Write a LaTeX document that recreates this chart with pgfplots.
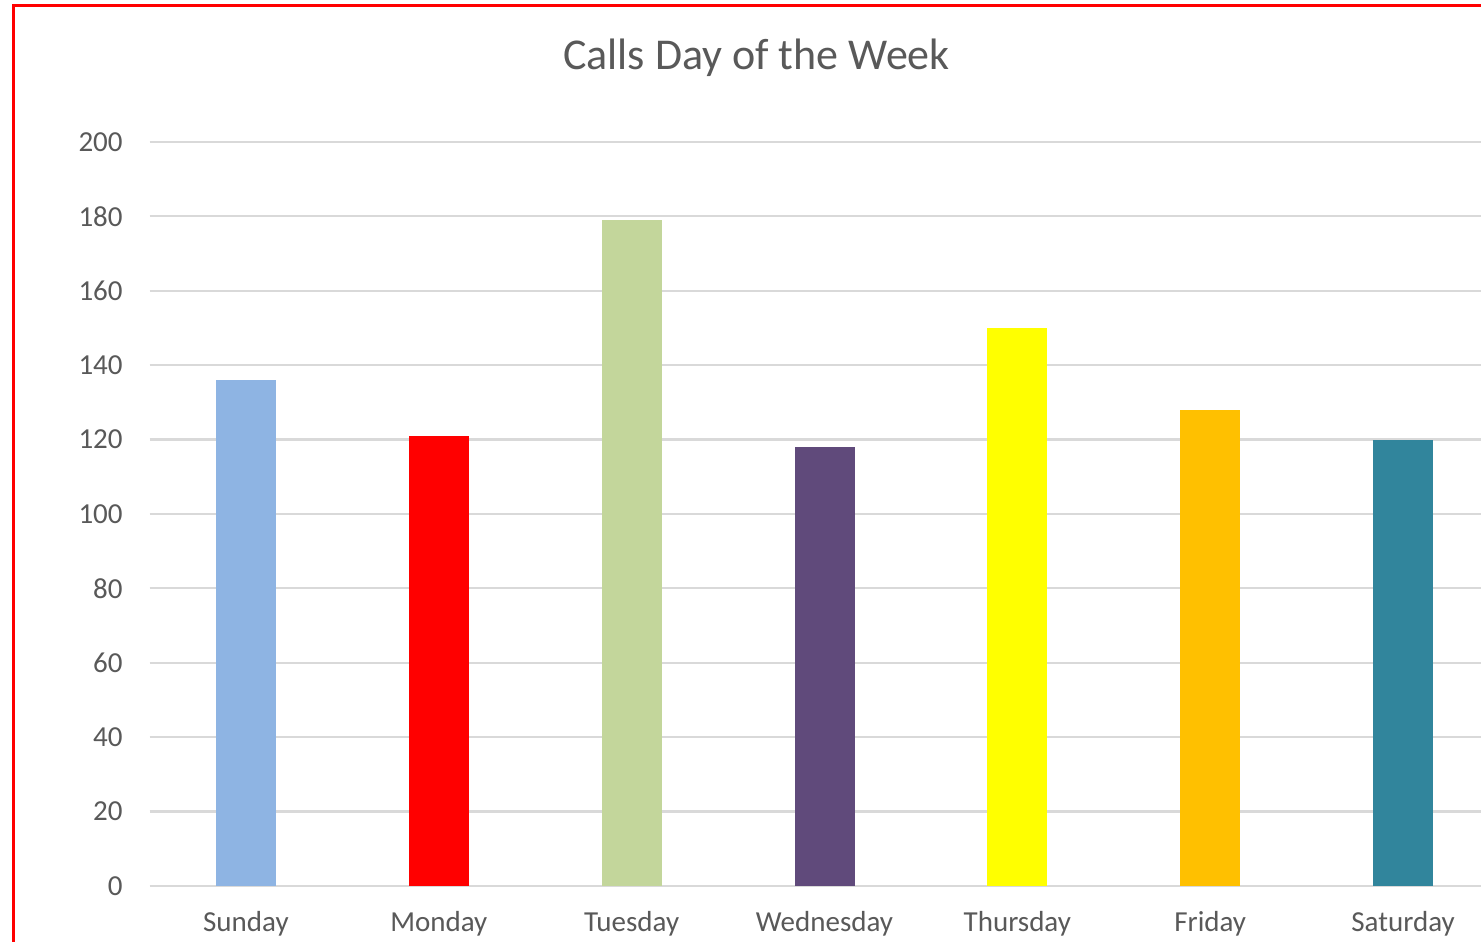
\documentclass[border=0pt]{standalone}
\usepackage{pgfplots}
\pgfplotsset{compat=1.18}
\usepackage{fontspec}
\setmainfont{Carlito}

\definecolor{txtgray}{HTML}{595959}
\definecolor{gridgray}{HTML}{D9D9D9}
\definecolor{cSun}{HTML}{8EB4E3}
\definecolor{cMon}{HTML}{FF0000}
\definecolor{cTue}{HTML}{C3D69B}
\definecolor{cWed}{HTML}{604A7B}
\definecolor{cThu}{HTML}{FFFF00}
\definecolor{cFri}{HTML}{FFC000}
\definecolor{cSat}{HTML}{31859C}

\begin{document}
\begin{tikzpicture}
  % picture is 1481 x 941 px, one px = 0.5pt, origin at the bottom left
  \useasboundingbox (0pt,0pt) rectangle (740.5pt,470.5pt);
  \clip (0pt,0pt) rectangle (740.5pt,470.5pt);
  \fill[white] (0pt,0pt) rectangle (740.5pt,470.5pt);

  \begin{axis}[
      at={(74.75pt,27.5pt)}, anchor=south west,
      scale only axis,
      width=675pt, height=372pt,
      xmin=-0.5, xmax=6.5,
      ymin=0, ymax=200,
      xtick={0,1,2,3,4,5,6},
      xticklabels={Sunday,Monday,Tuesday,Wednesday,Thursday,Friday,Saturday},
      ytick={0,20,...,200},
      /pgf/number format/assume math mode=true,
      axis line style={draw=none},
      major tick length=0pt,
      ymajorgrids,
      grid style={color=gridgray, line width=1.1pt},
      tick label style={font=\fontsize{14.5}{16}\selectfont, text=txtgray},
      yticklabel style={anchor=east, inner sep=0pt, xshift=-13.25pt},
      xticklabel style={anchor=base, inner sep=0pt, yshift=-23pt},
      clip=false,
    ]
    \addplot[ybar, bar width=30pt, bar shift=0pt, fill=cSun, draw=none] coordinates {(0,136)};
    \addplot[ybar, bar width=30pt, bar shift=0pt, fill=cMon, draw=none] coordinates {(1,121)};
    \addplot[ybar, bar width=30pt, bar shift=0pt, fill=cTue, draw=none] coordinates {(2,179)};
    \addplot[ybar, bar width=30pt, bar shift=0pt, fill=cWed, draw=none] coordinates {(3,118)};
    \addplot[ybar, bar width=30pt, bar shift=0pt, fill=cThu, draw=none] coordinates {(4,150)};
    \addplot[ybar, bar width=30pt, bar shift=0pt, fill=cFri, draw=none] coordinates {(5,128)};
    \addplot[ybar, bar width=30pt, bar shift=0pt, fill=cSat, draw=none] coordinates {(6,120)};
  \end{axis}

  % title
  \node[anchor=base, inner sep=0pt, text=txtgray,
        font=\fontsize{22}{26}\selectfont] at (378.25pt,435.5pt) {Calls Day of the Week};

  % red frame of the chart object (left and top edges visible)
  \draw[red, line width=1.5pt] (6.75pt,-5pt) -- (6.75pt,467.5pt) -- (750pt,467.5pt);
\end{tikzpicture}
\end{document}
